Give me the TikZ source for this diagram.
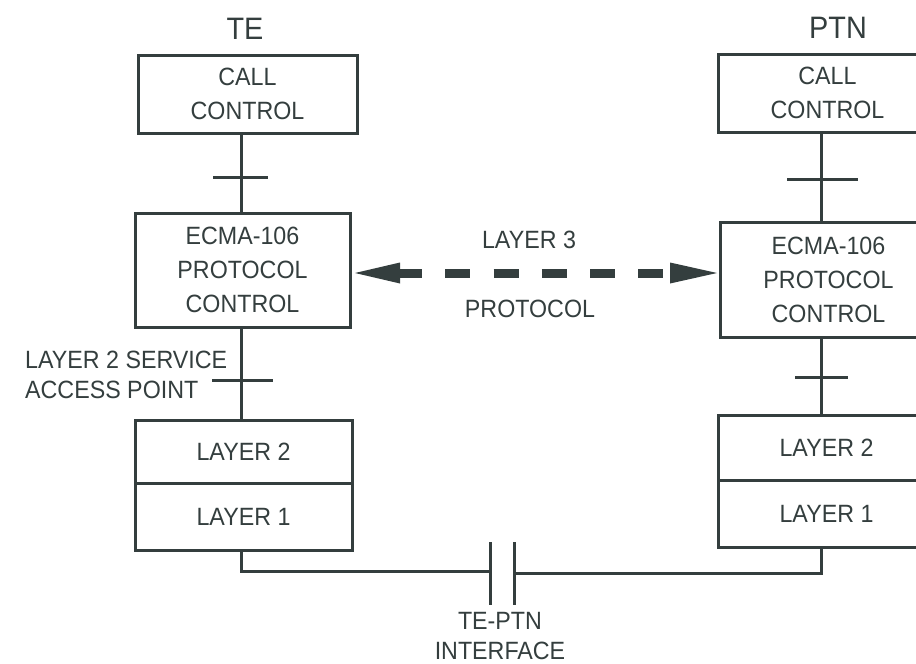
\documentclass[tikz,border=0pt]{standalone}
\usepackage{fontspec}
\setmainfont{Liberation Sans}[FakeStretch=0.93]
\usetikzlibrary{arrows.meta}
\definecolor{lc}{RGB}{52,62,62}
\begin{document}
\begin{tikzpicture}[x=1pt,y=-1pt,
  every node/.style={text=lc,font=\fontsize{25}{34}\selectfont,inner sep=0pt},
  boxn/.style={draw=lc,line width=3pt,align=center},
  ln/.style={draw=lc,line width=3pt},
  lbl/.style={align=center},
  head/.style={font=\fontsize{31}{36}\selectfont}]
\useasboundingbox (0,0) rectangle (916,664);
\fill[white] (0,0) rectangle (916,664);
% left column
\node[head] (te) at (245,28.5) {TE};
\node[boxn,minimum width=219pt,minimum height=78pt] (callL) at (247.5,94) {CALL\\CONTROL};
\node[boxn,minimum width=215pt,minimum height=114pt] (ecmaL) at (242.5,270) {ECMA-106\\PROTOCOL\\CONTROL};
\node[boxn,minimum width=217pt,minimum height=63pt] (l2L) at (243.5,451.5) {LAYER 2};
\node[boxn,minimum width=217pt,minimum height=67pt] (l1L) at (243.5,516.5) {LAYER 1};
% right column
\node[head] (ptn) at (838,28) {PTN};
\node[boxn,minimum width=219pt,minimum height=78pt] (callR) at (827.5,93) {CALL\\CONTROL};
\node[boxn,minimum width=217pt,minimum height=115pt] (ecmaR) at (828.5,279.5) {ECMA-106\\PROTOCOL\\CONTROL};
\node[boxn,minimum width=217pt,minimum height=65pt] (l2R) at (826.5,447.5) {LAYER 2};
\node[boxn,minimum width=217pt,minimum height=67pt] (l1R) at (826.5,513.5) {LAYER 1};
% labels
\node[lbl] (l3) at (529,240) {LAYER 3};
\node[lbl] (prot) at (530,309) {PROTOCOL};
\node[anchor=west,align=left,font=\fontsize{25}{30}\selectfont] (sap) at (25,375) {LAYER 2 SERVICE\\ACCESS POINT};
\node[lbl,font=\fontsize{25}{30}\selectfont] (iface) at (500,636) {TE-PTN\\INTERFACE};
% coordinates
\coordinate (xl) at (241,0);
\coordinate (xr) at (821,0);
\coordinate (ya) at (0,273);
\coordinate (yb) at (0,571);
\coordinate (yc) at (0,573);
\coordinate (p1t) at (490,542);
\coordinate (p1b) at (490,605);
\coordinate (p2t) at (514,542);
\coordinate (p2b) at (514,605);
% vertical connectors
\draw[ln] (callL.south -| xl) -- (ecmaL.north -| xl);
\draw[ln] (ecmaL.south -| xl) -- (l2L.north -| xl);
\draw[ln] (callR.south -| xr) -- (ecmaR.north -| xr);
\draw[ln] (ecmaR.south -| xr) -- (l2R.north -| xr);
% ticks (service access points)
\draw[ln] (213,177) -- (268,177);
\draw[ln] (212,380) -- (273,380);
\draw[ln] (787,179) -- (858,179);
\draw[ln] (795,377) -- (848,377);
% interface
\draw[ln] (l1L.south -| xl) -- (yb -| xl) -- (yb -| p1t);
\draw[ln] (p1t) -- (p1b);
\draw[ln] (p2t) -- (p2b);
\draw[ln] (l1R.south -| xr) -- (yc -| xr) -- ([xshift=2pt]yc -| p2t);
% layer 3 protocol arrow
\draw[draw=lc,line width=9pt,dash pattern=on 25pt off 23.25pt,dash phase=3pt,
  {Triangle[length=45pt,width=21pt,line width=0pt,fill=lc]}-{Triangle[length=47pt,width=21pt,line width=0pt,fill=lc]}]
  ([xshift=3.5pt]ecmaL.east |- ya) -- ([xshift=-1.5pt]ecmaR.west |- ya);
\end{tikzpicture}
\end{document}
